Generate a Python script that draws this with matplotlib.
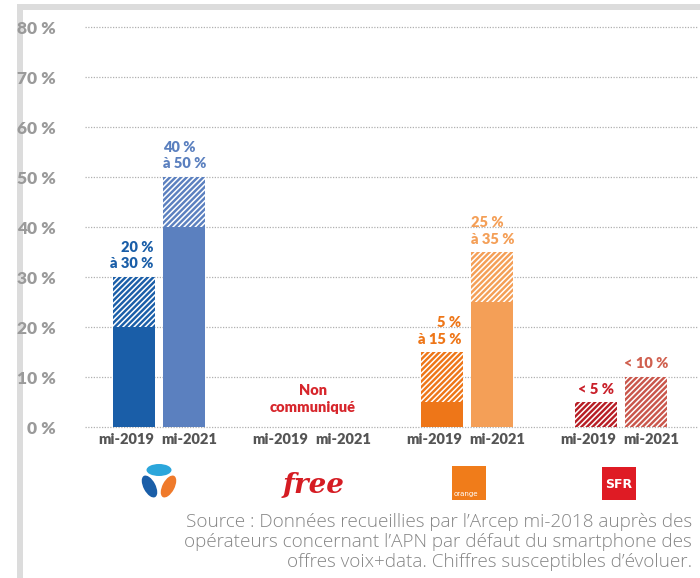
import matplotlib
matplotlib.use("Agg")
import matplotlib.pyplot as plt
from matplotlib.patches import Rectangle, Ellipse

# ---------------- data ----------------
operators = ["Bouygues", "Free", "Orange", "SFR"]
periods = ["mi-2019", "mi-2021"]
# solid (certain) part and hatched (range) part, in %
low_2019 = [20, None, 5, 0]
high_2019 = [30, None, 15, 5]
low_2021 = [40, None, 25, 0]
high_2021 = [50, None, 35, 10]
labels_2019 = ["20 %\nà 30 %", None, "5 %\nà 15 %", "< 5 %"]
labels_2021 = ["40 %\nà 50 %", None, "25 %\nà 35 %", "< 10 %"]
y_ticks = [0, 10, 20, 30, 40, 50, 60, 70, 80]
y_tick_labels = ["0 %", "10 %", "20 %", "30 %", "40 %", "50 %", "60 %", "70 %", "80 %"]
missing_text = "Non\ncommuniqué"
source_text = ("Source : Données recueillies par l’Arcep mi-2018 auprès des\n"
               "opérateurs concernant l’APN par défaut du smartphone des\n"
               "offres voix+data. Chiffres susceptibles d’évoluer.")

colors_2019 = ["#1a5ea8", None, "#ee7618", "#b71d24"]
colors_2021 = ["#5b80bf", None, "#f49f57", "#c9564b"]
label_colors_2019 = ["#1a5ea8", None, "#ee7618", "#c9202a"]
label_colors_2021 = ["#5b80bf", None, "#f49f57", "#d0604f"]

plt.rcParams["font.family"] = ["Lato", "DejaVu Sans"]
plt.rcParams["hatch.linewidth"] = 1.1

W, H = 700, 578
fig = plt.figure(figsize=(W / 100, H / 100), dpi=100)

# background overlay axes in pixel coordinates for frame, logos and source
bg = fig.add_axes([0, 0, 1, 1], zorder=0)
bg.set_xlim(0, W)
bg.set_ylim(H, 0)
bg.axis("off")
bg.add_patch(Rectangle((17, 4), 6, H - 4, color="#dcdcdc", lw=0))
bg.add_patch(Rectangle((17, 4), W - 17, 6, color="#dcdcdc", lw=0))

ax = fig.add_axes([85 / W, 1 - 427 / H, 612 / W, 400 / H], zorder=1)
ax.patch.set_alpha(0)
ax.set_xlim(-0.48, 3.494)
ax.set_ylim(0, 80)
for s in ax.spines.values():
    s.set_visible(False)

for yv in y_ticks:
    ax.axhline(yv, color="#b0b0b0", lw=0.9, ls=(0, (1, 1.2)), zorder=0, clip_on=False)

off = 0.163
bw = 0.273
lab_off = 0.215
xt, xl = [], []
for i, op in enumerate(operators):
    for j, (lo, hi, col, lab, lcol) in enumerate([
            (low_2019[i], high_2019[i], colors_2019[i], labels_2019[i], label_colors_2019[i]),
            (low_2021[i], high_2021[i], colors_2021[i], labels_2021[i], label_colors_2021[i])]):
        x = i + (-off if j == 0 else off)
        xt.append(i + (-lab_off if j == 0 else lab_off - 0.02))
        xl.append(periods[j])
        if hi is None:
            continue
        if lo > 0:
            ax.bar(x, lo, width=bw, color=col, lw=0, zorder=2)
        ax.bar(x, hi - lo, bottom=lo, width=bw, facecolor=col, edgecolor="white",
               hatch="//////", lw=0, zorder=2)
        if "\n" in lab:
            if j == 0:
                ax.text(x + bw / 2 - 0.01, hi + 1.3, lab, ha="right", va="bottom",
                        multialignment="right", color=lcol, fontsize=10.5,
                        fontweight="heavy", linespacing=1.3)
            else:
                ax.text(x - bw / 2, hi + 1.3, lab, ha="left", va="bottom",
                        multialignment="left", color=lcol, fontsize=10.5,
                        fontweight="heavy", linespacing=1.3)
        else:
            ax.text(x, hi + 1.3, lab, ha="center", va="bottom", color=lcol,
                    fontsize=10.5, fontweight="heavy")

ax.text(1, 5.6, missing_text, ha="center", va="center", color="#d7262c",
        fontsize=10.5, fontweight="heavy", linespacing=1.3)

ax.set_xticks(xt)
ax.set_xticklabels(xl, fontsize=10.5, fontweight="heavy", color="#555555")
ax.set_yticks(y_ticks)
ax.set_yticklabels(y_tick_labels, fontsize=12.5, fontweight="heavy", color="#9a9a9a")
ax.tick_params(axis="x", length=0, pad=4)
ax.tick_params(axis="y", length=0, pad=21)

# ---------------- logos ----------------
# Bouygues
bg.add_patch(Ellipse((159, 470), 25, 12, color="#2ba6db", lw=0))
bg.add_patch(Ellipse((149.5, 486.5), 12, 24, angle=-28, color="#1a5ea8", lw=0))
bg.add_patch(Ellipse((168.5, 486.5), 12, 24, angle=28, color="#ef7a2b", lw=0))
# Free
bg.text(314, 485, "free", ha="center", va="center", color="#d51c23",
        fontsize=20, fontstyle="italic", fontweight="bold", family="DejaVu Serif")
# Orange
bg.add_patch(Rectangle((452, 466), 34, 34, color="#f07c1a", lw=0))
bg.text(454, 497, "orange", ha="left", va="bottom", color="white", fontsize=5,
        family="DejaVu Sans")
# SFR
bg.add_patch(Rectangle((602, 467), 34, 33, color="#df1b24", lw=0))
bg.text(619, 484, "SFR", ha="center", va="center", color="white", fontsize=9,
        fontweight="bold", family="DejaVu Sans")

# Source
bg.text(692, 542, source_text, ha="right", va="center", multialignment="right",
        color="#858585", fontsize=13.6, fontweight="light",
        family=["Open Sans", "DejaVu Sans"], linespacing=1.12)

fig.savefig("out.png", dpi=100)
